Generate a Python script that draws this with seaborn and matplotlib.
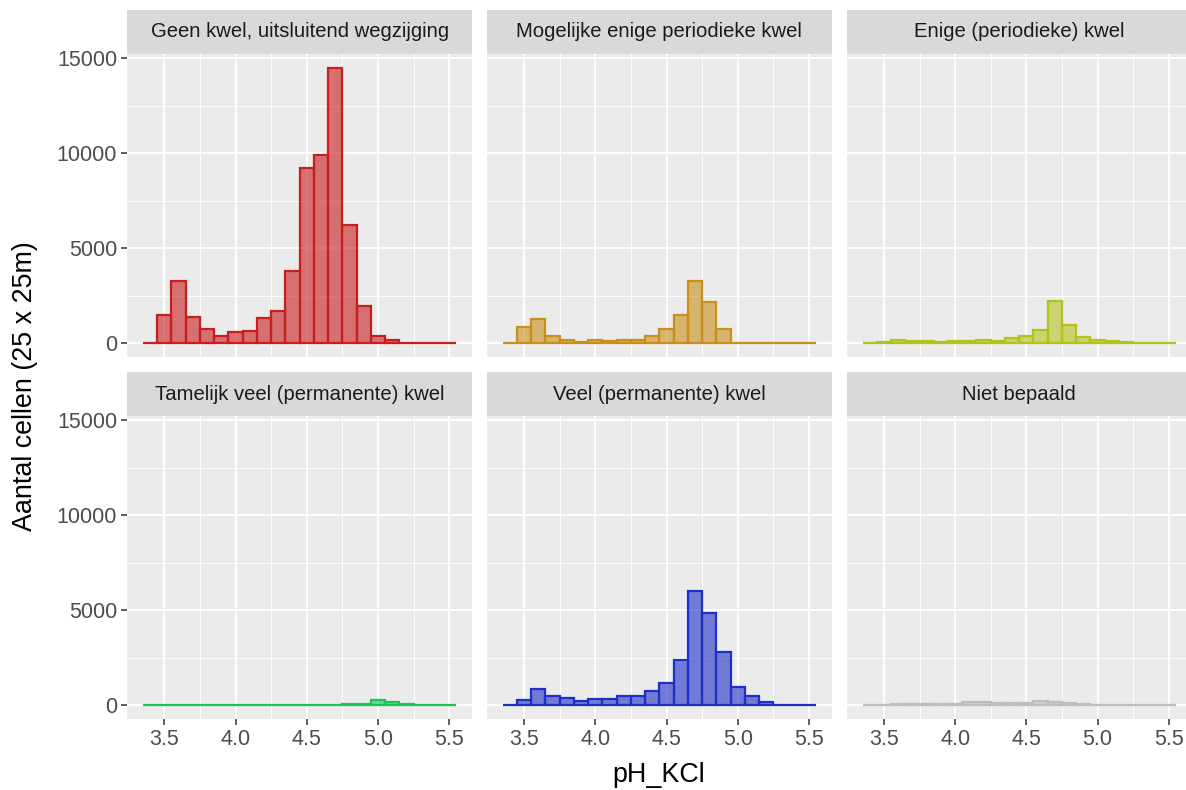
import numpy as np
import pandas as pd
import matplotlib
matplotlib.use("Agg")
import matplotlib.pyplot as plt
from matplotlib.patches import Rectangle
from matplotlib.colors import to_rgba
import seaborn as sns

# ---- data -------------------------------------------------------------
bin_edges = [3.35, 3.45, 3.55, 3.65, 3.75, 3.85, 3.95, 4.05, 4.15, 4.25, 4.35,
             4.45, 4.55, 4.65, 4.75, 4.85, 4.95, 5.05, 5.15, 5.25, 5.35, 5.45, 5.55]

categories = ["Geen kwel, uitsluitend wegzijging",
              "Mogelijke enige periodieke kwel",
              "Enige (periodieke) kwel",
              "Tamelijk veel (permanente) kwel",
              "Veel (permanente) kwel",
              "Niet bepaald"]

counts_geen = [30, 1470, 3300, 1370, 770, 400, 580, 670, 1330, 1720, 3810,
               9210, 9930, 14500, 6210, 1950, 390, 160, 0, 0, 0, 0]
counts_mogelijk = [30, 840, 1260, 400, 190, 90, 190, 140, 190, 190, 400,
                   740, 1490, 3300, 2190, 740, 0, 0, 0, 0, 0, 0]
counts_enige = [0, 90, 190, 140, 120, 70, 120, 120, 190, 140, 250,
                390, 700, 2250, 950, 330, 175, 120, 90, 0, 0, 0]
counts_tamelijk = [0, 0, 0, 0, 0, 0, 0, 0, 0, 0, 0,
                   0, 0, 10, 70, 90, 280, 175, 90, 0, 0, 0]
counts_veel = [0, 280, 840, 490, 400, 230, 330, 330, 490, 460, 770,
               1160, 2370, 6000, 4840, 2820, 950, 460, 175, 0, 0, 0]
counts_niet = [0, 30, 90, 90, 50, 50, 90, 175, 175, 140, 140,
               140, 210, 160, 140, 90, 0, 0, 0, 0, 0, 0]

colors = ["#C81E1E", "#C8901A", "#B4C31A", "#1DC45A", "#1F30C8", "#BDBDBD"]

x_ticks = [3.5, 4.0, 4.5, 5.0, 5.5]
x_tick_labels = ["3.5", "4.0", "4.5", "5.0", "5.5"]
y_ticks = [0, 5000, 10000, 15000]
y_tick_labels = ["0", "5000", "10000", "15000"]

all_counts = [counts_geen, counts_mogelijk, counts_enige,
              counts_tamelijk, counts_veel, counts_niet]

edges = np.array(bin_edges)
centers = (edges[:-1] + edges[1:]) / 2
rows = []
for cat, cnt in zip(categories, all_counts):
    for c, w in zip(centers, cnt):
        rows.append({"klasse": cat, "pH_KCl": c, "n": w})
df = pd.DataFrame(rows)

# ---- style ------------------------------------------------------------
plt.rcParams["font.family"] = ["Liberation Sans", "DejaVu Sans"]

W, H = 1186, 790
fig = plt.figure(figsize=(W / 100, H / 100), dpi=100)
fig.patch.set_facecolor("white")

col_left_px = [127.3, 487.1, 846.9]
panel_w_px = 344.6
row_top_px = [54, 416]
panel_h_px = 303

xlim = (3.24, 5.66)
ylim = (-725, 15231)
strip_h = 44 / panel_h_px

axes = []
first = None
for r in range(2):
    for c in range(3):
        rect = [col_left_px[c] / W, 1 - (row_top_px[r] + panel_h_px) / H,
                panel_w_px / W, panel_h_px / H]
        ax = fig.add_axes(rect, sharex=first, sharey=first)
        if first is None:
            first = ax
        axes.append(ax)

for i, (ax, cat, col) in enumerate(zip(axes, categories, colors)):
    sub = df[df["klasse"] == cat]
    ax.set_facecolor("#EBEBEB")
    sns.histplot(data=sub, x="pH_KCl", weights="n", bins=list(bin_edges), ax=ax,
                 facecolor=to_rgba(col, 0.6), edgecolor=col, linewidth=1.6,
                 zorder=3)
    ax.set_xlim(*xlim)
    ax.set_ylim(*ylim)
    ax.set_xticks(x_ticks)
    ax.set_xticklabels(x_tick_labels)
    ax.set_yticks(y_ticks)
    ax.set_yticklabels(y_tick_labels)
    ax.set_xticks([3.75, 4.25, 4.75, 5.25], minor=True)
    ax.set_yticks([2500, 7500, 12500], minor=True)
    ax.grid(which="major", color="white", linewidth=1.4, zorder=0)
    ax.grid(which="minor", color="white", linewidth=0.7, zorder=0)
    ax.set_axisbelow(True)
    for s in ax.spines.values():
        s.set_visible(False)
    ax.tick_params(which="minor", length=0)
    ax.tick_params(which="major", length=4.3, width=1.1, color="#333333",
                   labelcolor="#4D4D4D", labelsize=15.5, pad=3)
    r, c = divmod(i, 3)
    if r == 0:
        ax.tick_params(axis="x", which="major", length=0, labelbottom=False)
    if c != 0:
        ax.tick_params(axis="y", which="major", length=0, labelleft=False)
    ax.set_xlabel("")
    ax.set_ylabel("")
    ax.add_patch(Rectangle((0, 1), 1, strip_h, transform=ax.transAxes,
                           facecolor="#D9D9D9", edgecolor="none",
                           clip_on=False, zorder=1))
    ax.text(0.5, 1 + strip_h / 2, cat, transform=ax.transAxes,
            ha="center", va="center", fontsize=14.6, color="#1A1A1A")

fig.text(659 / W, 1 - 775 / H, "pH_KCl",
         ha="center", va="center", fontsize=19.4, color="black")
fig.text(25 / W, 1 - (row_top_px[0] + row_top_px[1] + panel_h_px) / 2 / H,
         "Aantal cellen (25 x 25m)",
         ha="center", va="center", rotation=90, fontsize=19.4, color="black")

fig.savefig("out.png", dpi=100)
